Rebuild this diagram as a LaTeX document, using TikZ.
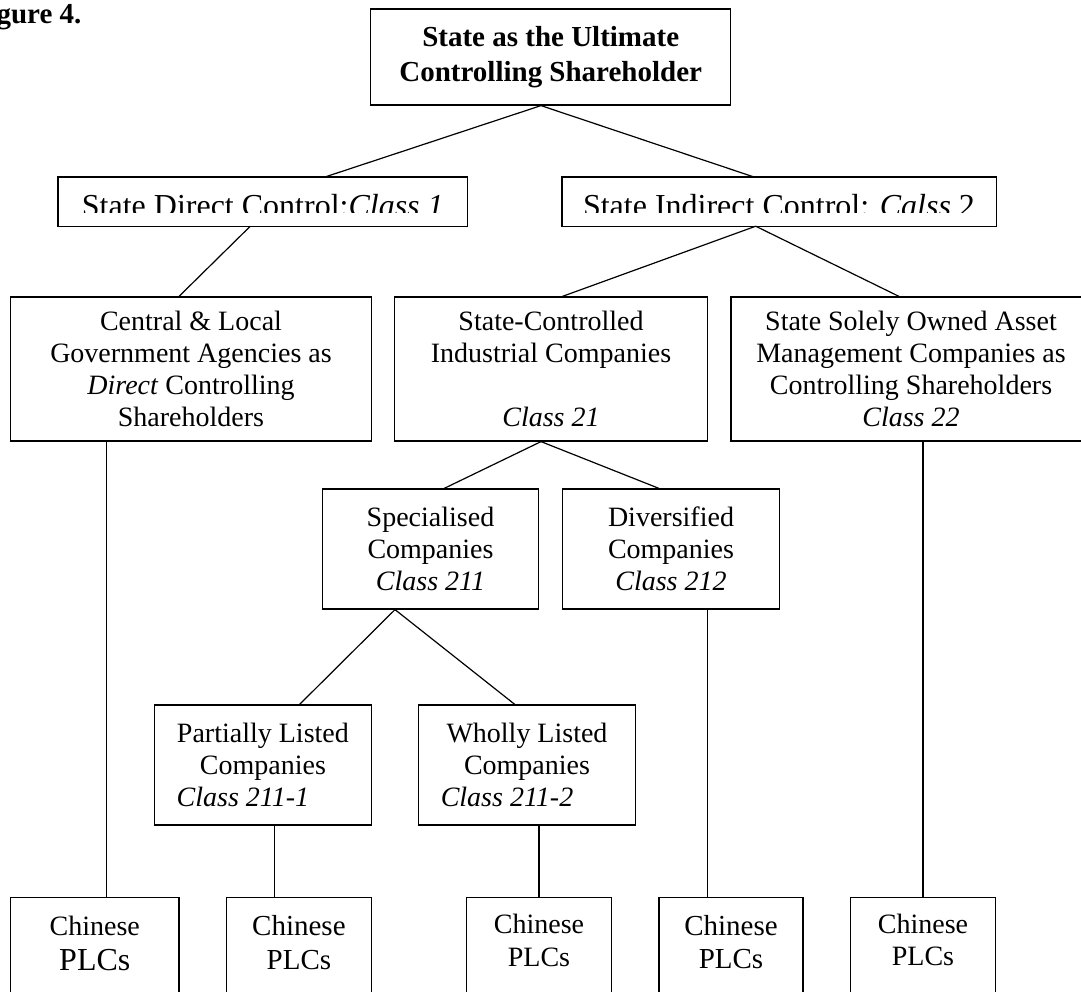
\documentclass[tikz,border=0pt]{standalone}
\usepackage{fontspec}
\setmainfont{Liberation Serif}
\usepackage{tikz}

\begin{document}
\begin{tikzpicture}[line width=0.6pt, x=0.5pt, y=-0.5pt,
			box/.style={draw, rectangle, inner sep=0pt, align=center,
				font=\fontsize{14}{16.1}\selectfont},
			plcbox/.style={box, anchor=north, text depth=22pt}]
		\useasboundingbox (0,0) rectangle (1081,991);
		\clip (0,0) rectangle (1081,991);

		\node [anchor=base east, inner sep=0pt, font=\bfseries\fontsize{14.5}{17.5}\selectfont] (fig) at (82,23) {Figure 4.};

		\node [box, minimum width=180pt, minimum height=48pt, font=\bfseries\fontsize{14.5}{17.5}\selectfont] (state) at (550.7,57) {State as the Ultimate\\Controlling Shareholder};

		% text of the two control boxes is cut off at the bottom
		\begin{scope}
			\clip (0,177) rectangle (1081,212.7);
			\node [box, draw=none, anchor=north, minimum width=204.3pt, text height=19.6pt, text depth=4.4pt, font=\fontsize{16}{18}\selectfont] (direct) at (262.8,177) {State Direct Control:\textit{Class 1}};
			\node [box, draw=none, anchor=north, minimum width=216.5pt, text height=19.6pt, text depth=4.4pt, font=\fontsize{16}{18}\selectfont] (indirect) at (779,177) {State Indirect Control: \textit{Calss} 2};
		\end{scope}
		\draw (direct.north west) rectangle (direct.south east);
		\draw (indirect.north west) rectangle (indirect.south east);

		\node [box, minimum width=180.25pt, minimum height=72pt] (central) at (191,369) {Central \& Local\\Government Agencies as\\\textit{Direct} Controlling\\Shareholders};
		\node [box, minimum width=156.4pt, minimum height=72pt] (stateind) at (551,369) {State-Controlled\\Industrial Companies\\\mbox{}\\\textit{Class 21}};
		\node [box, minimum width=180pt, minimum height=72pt] (solely) at (911,369) {State Solely Owned Asset\\Management Companies as\\Controlling Shareholders\\\textit{Class 22}};

		\node [box, minimum width=107.75pt, minimum height=60pt] (spec) at (430.5,549) {Specialised\\Companies\\\textit{Class 211}};
		\node [box, minimum width=108.15pt, minimum height=60pt] (divers) at (671,549) {Diversified\\Companies\\\textit{Class 212}};

		\node [box, minimum width=108.3pt, minimum height=60pt] (partial) at (262.9,765) {Partially Listed\\Companies\\\textit{Class 211-1}\hspace*{20pt}};
		\node [box, minimum width=108.25pt, minimum height=60pt] (wholly) at (527,765) {Wholly Listed\\Companies\\\textit{Class 211-2}\hspace*{20pt}};

		\node [plcbox, minimum width=84.15pt, text height=36.5pt] (chA) at (94.8,897) {Chinese\\[1.5pt]{\fontsize{16}{16}\selectfont PLCs}};
		\node [plcbox, minimum width=72.3pt, text height=36pt, font=\fontsize{14.5}{17}\selectfont] (chB) at (298.9,897) {Chinese\\PLCs};
		\node [plcbox, minimum width=72.35pt, text height=34.5pt, font=\fontsize{14}{16.5}\selectfont] (chC) at (539,897) {Chinese\\PLCs};
		\node [plcbox, minimum width=72pt, text height=35.5pt, font=\fontsize{14.5}{16.5}\selectfont] (chD) at (731,897) {Chinese\\PLCs};
		\node [plcbox, minimum width=72.5pt, text height=34pt, font=\fontsize{14}{16}\selectfont] (chE) at (923,897) {Chinese\\PLCs};

		\draw ([xshift=-4.85pt]state.south) -- ([xshift=31.1pt]direct.north);
		\draw ([xshift=-4.85pt]state.south) -- ([xshift=-12.5pt]indirect.north);
		\draw ([xshift=-6.25pt]direct.south) -- ([xshift=-6pt]central.north);
		\draw ([xshift=-11.65pt]indirect.south) -- ([xshift=5.7pt]stateind.north);
		\draw ([xshift=-11.65pt]indirect.south) -- ([xshift=-6pt]solely.north);
		\draw ([xshift=-42.1pt]central.south) -- ([xshift=6pt]chA.north);
		\draw ([xshift=-5pt]stateind.south) -- ([xshift=6.85pt]spec.north);
		\draw ([xshift=-5pt]stateind.south) -- ([xshift=-6pt]divers.north);
		\draw ([xshift=6pt]solely.south) -- (chE.north);
		\draw ([xshift=-17.75pt]spec.south) -- ([xshift=18.35pt]partial.north);
		\draw ([xshift=-17.75pt]spec.south) -- ([xshift=-6.1pt]wholly.north);
		\draw ([xshift=18.2pt]divers.south) -- ([xshift=-11.8pt]chD.north);
		\draw ([xshift=5.95pt]partial.south) -- ([xshift=-12.05pt]chB.north);
		\draw ([xshift=6pt]wholly.south) -- (chC.north);
	\end{tikzpicture}
\end{document}
